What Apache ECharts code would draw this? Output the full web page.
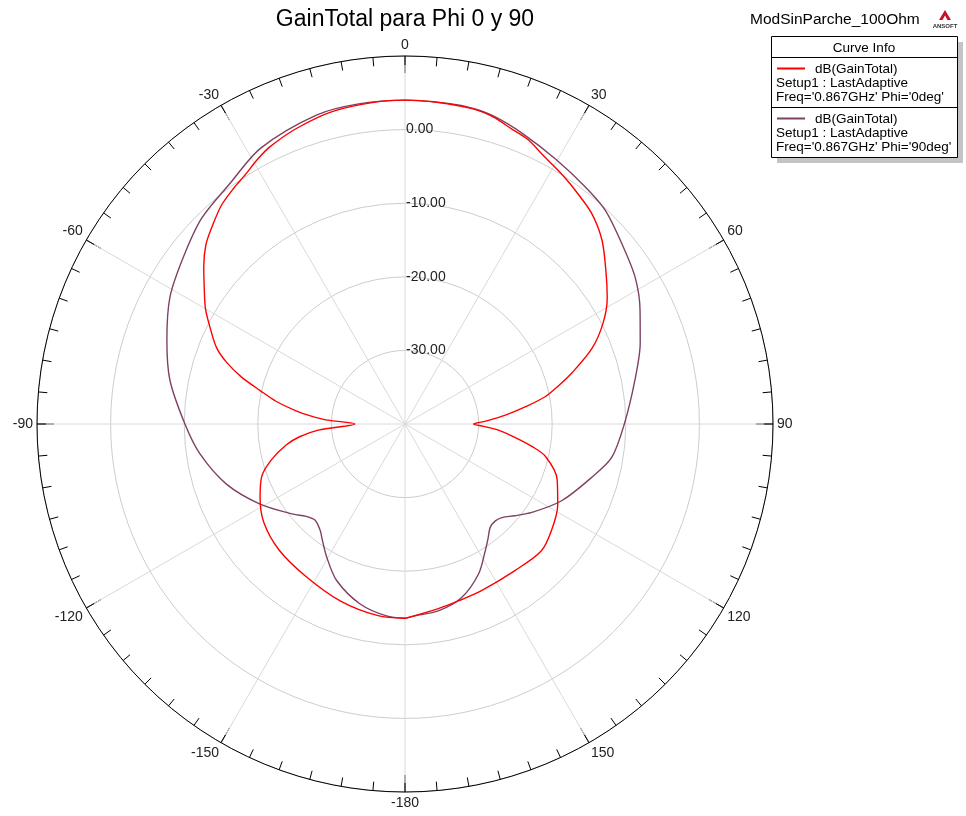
<!DOCTYPE html>
<html>
<head>
<meta charset="utf-8">
<script src="https://cdn.jsdelivr.net/npm/echarts@6/dist/echarts.min.js"></script>
<style>
html, body { margin: 0; padding: 0; background: #ffffff; }
#chart { width: 966px; height: 816px; }
</style>
</head>
<body>
<div id="chart"></div>
<script>
// Radial scale (dB) and labelled rings
const radialMin = -40;
const radialMax = 10;
const radialRings = [-30, -20, -10, 0];

// Gain pattern, Phi = 0deg cut (theta in degrees, gain in dB)
const phi0Theta = [-180, -172, -160, -147, -135, -125, -117, -110, -105, -100, -97, -94, -90, -87, -85, -83, -80, -77, -74, -71, -68, -64, -60, -56, -52, -48, -44, -40, -36, -33, -29, -26, -20, -13, -5, 0, 5, 12, 16, 20, 23.5, 27, 30, 33, 36, 41.5, 47, 53, 58, 63, 68, 73, 76, 79, 82, 85, 88, 90, 92, 94, 97, 100, 103, 110, 118, 126, 133, 143, 155, 163, 170, 180];
const phi0Gain = [-13.6, -13.7, -14.4, -15.3, -15.8, -16.6, -17.9, -19.3, -21.2, -23.6, -25.5, -28.2, -33.2, -29.2, -27.0, -25.0, -22.2, -19.8, -16.9, -14.4, -12.4, -10.6, -8.7, -7.1, -5.3, -3.6, -2.4, -1.2, -0.4, 0.15, 1.2, 1.9, 2.8, 3.6, 3.93, 4.0, 3.95, 3.8, 3.4, 2.6, 2.07, 1.1, 0.46, -0.1, -0.7, -1.75, -3.4, -5.8, -7.6, -9.8, -12.6, -16.3, -18.5, -20.6, -23.6, -26.3, -29.0, -30.7, -29.0, -27.1, -24.9, -22.5, -20.4, -18.0, -16.5, -15.4, -14.7, -15.1, -15.1, -14.9, -14.5, -13.6];

// Gain pattern, Phi = 90deg cut
const phi90Theta = [-180, -174.5, -166, -156.4, -149.6, -144, -141.5, -137, -133, -128.9, -118.9, -108.6, -98.3, -90, -79.4, -70.6, -61.6, -53, -44.7, -36, -27.6, -16, -8, 0, 8, 12, 16, 21.9, 29.6, 37.2, 43.1, 50.2, 57.4, 64.1, 71, 79.2, 90, 99.2, 105.9, 116.1, 124.9, 130, 134, 137, 140.5, 144, 147.7, 153.9, 161.9, 169.9, 177, 180];
const phi90Gain = [-13.6, -13.8, -14.8, -16.8, -19.0, -20.8, -21.5, -22.1, -21.6, -20.5, -17.5, -14.4, -11.85, -10.1, -7.5, -5.7, -3.7, -2.3, -0.7, 0.43, 2.3, 3.66, 3.95, 4.0, 3.95, 3.88, 3.55, 2.6, 1.4, 0.47, -0.2, -1.67, -2.9, -4.5, -6.2, -8.2, -10.2, -11.55, -13.6, -16.3, -19.0, -20.6, -21.7, -22.0, -21.8, -20.8, -19.6, -17.3, -15.2, -14.2, -13.9, -13.6];

const FONT = 'Liberation Sans, Arial, sans-serif';
const CENTER = [405, 424];
const RADIUS = 368;
const RED = '#ff0000';
const PURPLE = '#7f4163';

// polar data items are [radius, angle]; the angle axis runs 0..360 clockwise from the top
function toPolar(thetas, gains) {
  return thetas.map((t, i) => [gains[i], (t + 360) % 360]);
}

const chart = echarts.init(document.getElementById('chart'), null, { renderer: 'canvas' });

const legendTextStyle = { fontSize: 13.5, fontFamily: FONT, fill: '#000' };

function legendText(text, x, y, align) {
  return {
    type: 'text', x: x, y: y,
    style: Object.assign({ text: text, align: align || 'left', verticalAlign: 'middle' }, legendTextStyle)
  };
}

chart.setOption({
  animation: false,
  backgroundColor: '#ffffff',
  polar: [
    { center: CENTER, radius: RADIUS },
    { center: CENTER, radius: RADIUS }
  ],
  angleAxis: [
    {
      polarIndex: 0,
      type: 'value',
      min: 0,
      max: 360,
      interval: 30,
      startAngle: 90,
      clockwise: true,
      z: 4,
      axisLine: { show: true, lineStyle: { color: '#000', width: 1 } },
      axisTick: { show: true, inside: true, length: 17, lineStyle: { color: '#000', width: 1 } },
      axisLabel: {
        show: true,
        margin: 4,
        fontSize: 14,
        fontFamily: FONT,
        color: '#222',
        formatter: v => (v === 360 ? '' : String(v >= 180 ? v - 360 : v))
      },
      splitLine: { show: true, lineStyle: { color: '#dadada', width: 1 } }
    },
    {
      polarIndex: 1,
      type: 'value',
      min: 0,
      max: 360,
      interval: 5,
      startAngle: 90,
      clockwise: true,
      z: 4,
      axisLine: { show: false },
      axisTick: { show: true, inside: true, length: 9, lineStyle: { color: '#000', width: 1 } },
      axisLabel: { show: false },
      splitLine: { show: false }
    }
  ],
  radiusAxis: [
    {
      polarIndex: 0,
      type: 'value',
      min: radialMin,
      max: radialMax,
      interval: 10,
      z: 2,
      axisLine: { show: false },
      axisTick: { show: false },
      axisLabel: {
        show: true,
        margin: -1,
        align: 'left',
        verticalAlign: 'middle',
        padding: [0, 0, 4, 0],
        fontSize: 14,
        fontFamily: FONT,
        color: '#222',
        formatter: v => (radialRings.indexOf(v) >= 0 ? v.toFixed(2) : '')
      },
      splitLine: { show: true, lineStyle: { color: '#cdcdcd', width: 1 } }
    },
    {
      polarIndex: 1,
      type: 'value',
      min: radialMin,
      max: radialMax,
      show: false
    }
  ],
  series: [
    {
      name: "Phi='90deg'",
      type: 'line',
      coordinateSystem: 'polar',
      polarIndex: 0,
      showSymbol: false,
      smooth: 0.3,
      z: 5,
      lineStyle: { color: PURPLE, width: 1.4 },
      data: toPolar(phi90Theta, phi90Gain)
    },
    {
      name: "Phi='0deg'",
      type: 'line',
      coordinateSystem: 'polar',
      polarIndex: 0,
      showSymbol: false,
      smooth: 0.3,
      z: 6,
      lineStyle: { color: RED, width: 1.4 },
      data: toPolar(phi0Theta, phi0Gain)
    }
  ],
  graphic: [
    {
      type: 'text', x: 405, y: 20,
      style: { text: 'GainTotal para Phi 0 y 90', fontSize: 23, fontFamily: FONT, fill: '#000', align: 'center', verticalAlign: 'middle' }
    },
    {
      type: 'text', x: 750, y: 20,
      style: { text: 'ModSinParche_100Ohm', fontSize: 15.5, fontFamily: FONT, fill: '#000', align: 'left', verticalAlign: 'middle' }
    },
    // ANSOFT mark
    {
      type: 'polygon',
      shape: { points: [[939, 20], [945, 10], [951, 20]] },
      style: { fill: '#c8102e' }
    },
    {
      type: 'polygon',
      shape: { points: [[942.5, 20], [945, 15.5], [947.5, 20]] },
      style: { fill: '#ffffff' }
    },
    {
      type: 'text', x: 945, y: 26,
      style: { text: 'ANSOFT', fontSize: 6, fontWeight: 'bold', fontFamily: FONT, fill: '#333', align: 'center', verticalAlign: 'middle' }
    },
    // Curve Info box with drop shadow
    {
      type: 'rect', shape: { x: 777, y: 42, width: 186, height: 121 },
      style: { fill: '#c4c4c4' }
    },
    {
      type: 'rect', shape: { x: 771.5, y: 36.5, width: 186, height: 121 },
      style: { fill: '#ffffff', stroke: '#000', lineWidth: 1 }
    },
    {
      type: 'line', shape: { x1: 772, y1: 57.5, x2: 957, y2: 57.5 },
      style: { stroke: '#000', lineWidth: 1 }
    },
    {
      type: 'line', shape: { x1: 772, y1: 107.5, x2: 957, y2: 107.5 },
      style: { stroke: '#000', lineWidth: 1 }
    },
    legendText('Curve Info', 864, 48, 'center'),
    {
      type: 'line', shape: { x1: 777, y1: 68.5, x2: 805, y2: 68.5 },
      style: { stroke: RED, lineWidth: 2 }
    },
    legendText('dB(GainTotal)', 815, 69.5),
    legendText('Setup1 : LastAdaptive', 776, 83.5),
    legendText("Freq='0.867GHz' Phi='0deg'", 776, 97),
    {
      type: 'line', shape: { x1: 777, y1: 118.5, x2: 805, y2: 118.5 },
      style: { stroke: PURPLE, lineWidth: 2 }
    },
    legendText('dB(GainTotal)', 815, 119.5),
    legendText('Setup1 : LastAdaptive', 776, 133.5),
    legendText("Freq='0.867GHz' Phi='90deg'", 776, 147)
  ]
});
</script>
</body>
</html>
